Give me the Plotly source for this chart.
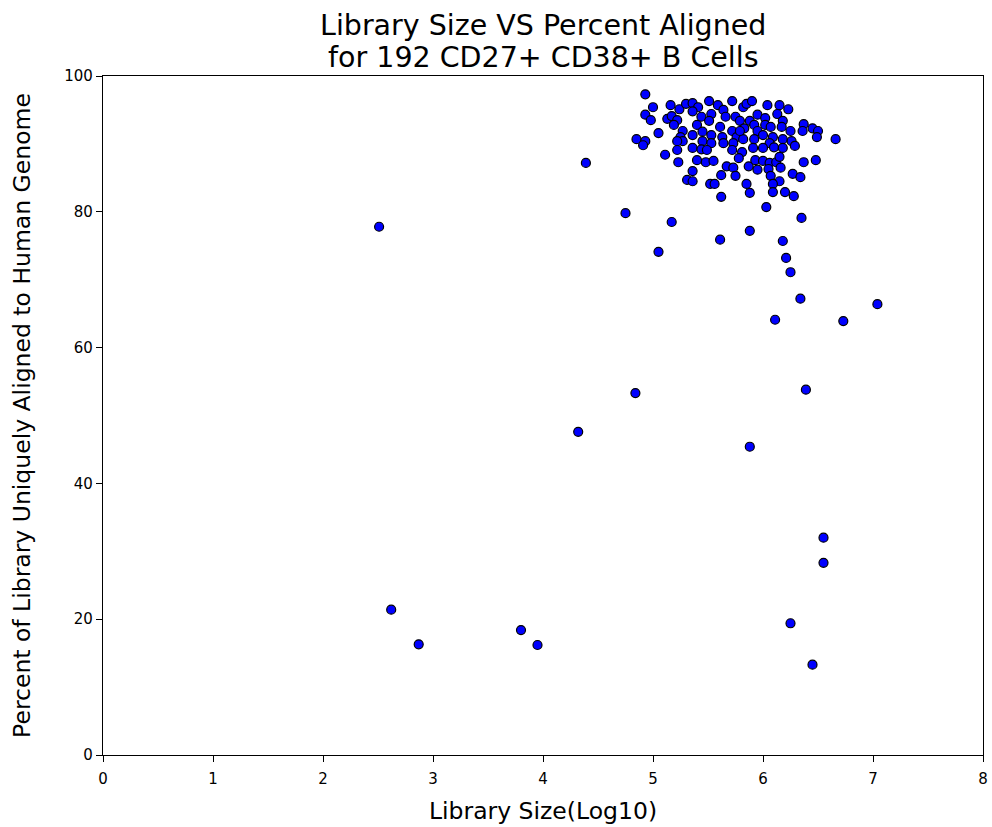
import plotly.graph_objects as go

# Library size (log10 of read count) for each cell
library_size_log10 = [
    4.93, 5.00, 4.93, 4.98, 5.05, 4.85, 4.93, 5.16, 5.13, 5.17, 5.22, 5.19, 5.24, 5.30, 5.27, 5.25, 5.27, 5.22,
    5.36, 5.41, 5.51, 5.59, 5.64, 5.72, 5.82, 5.85, 5.36, 5.44, 5.53, 5.51, 5.61, 5.66, 5.75, 5.79, 5.83, 5.40,
    5.36, 5.45, 5.53, 5.63, 5.72, 5.76, 5.82, 5.45, 5.53, 5.64, 5.73, 5.79,
    5.90, 6.04, 6.15, 6.23, 6.13, 5.95, 6.02, 6.18, 5.88, 5.92, 6.02, 6.07, 6.17, 6.37, 6.36, 6.25, 5.95, 6.00,
    5.92, 6.09, 6.18, 6.26, 6.06,
    6.45, 6.50, 6.49, 6.66,
    4.91, 5.11, 5.22, 5.23, 5.31,
    5.36, 5.44, 5.49, 5.72, 5.81, 5.40, 5.48, 5.55, 5.67, 5.73, 5.87, 5.36, 5.52, 5.56, 5.62, 5.75, 5.78, 5.85, 5.62,
    5.91, 6.00, 6.10, 6.18, 6.29, 5.93, 6.00, 6.06, 6.12, 6.15, 6.16, 5.95, 6.05, 6.07, 6.15, 6.27, 6.34, 6.37,
    6.09, 6.09, 6.20, 6.28, 5.88,
    6.48, 5.36,
    2.51, 2.62, 2.87, 3.80, 3.95, 4.32, 4.39, 4.75, 4.84, 5.05, 5.17, 5.61, 5.88, 5.88, 6.03, 6.18, 6.21, 6.25,
    6.34, 6.11, 7.04, 6.73, 6.39, 6.55, 6.55, 6.25, 6.45, 6.35,
]

# Percent of each library uniquely aligned to the human genome
percent_aligned = [
    97.3, 95.4, 94.3, 93.5, 91.6, 90.7, 90.4, 95.7, 93.7, 94.1, 93.5, 92.8, 95.1, 95.9, 91.9, 91.0, 90.4, 90.4,
    96.0, 95.4, 96.3, 95.7, 95.0, 96.3, 95.4, 95.9, 94.8, 94.0, 94.4, 93.4, 92.5, 94.0, 94.0, 93.4, 92.3, 92.8,
    91.3, 91.8, 91.3, 91.0, 91.9, 91.0, 90.7, 90.4, 90.1, 90.1, 90.1, 91.9,
    96.3, 95.7, 95.7, 95.1, 94.4, 94.3, 93.8, 93.4, 93.4, 92.8, 92.8, 92.5, 92.5, 92.9, 91.9, 91.9, 91.9, 91.3,
    90.7, 91.0, 90.7, 90.4, 90.1,
    92.3, 91.9, 91.0, 90.7,
    89.8, 88.4, 89.1, 87.3, 84.7,
    89.4, 89.2, 89.1, 89.1, 88.8, 87.6, 87.3, 87.5, 86.7, 86.5, 86.7, 84.5, 84.1, 84.1, 85.4, 85.3, 87.9, 84.1, 82.2,
    89.4, 89.4, 89.5, 89.4, 89.7, 87.6, 87.5, 87.2, 87.3, 88.1, 86.5, 86.2, 86.3, 85.3, 84.5, 85.6, 85.1, 87.3,
    84.1, 82.9, 82.9, 82.3, 82.8,
    87.6, 86.0,
    77.8, 21.4, 16.3, 18.4, 16.2, 47.6, 87.2, 79.8, 53.3, 74.1, 78.5, 75.9, 77.2, 45.4, 80.7, 75.7, 73.2, 71.1,
    67.2, 64.1, 66.4, 63.9, 53.8, 32.0, 28.3, 19.4, 13.3, 79.1,
]

x_ticks = [0, 1, 2, 3, 4, 5, 6, 7, 8]
y_ticks = [0, 20, 40, 60, 80, 100]

title_lines = ["Library Size VS Percent Aligned", "for 192 CD27+ CD38+ B Cells"]

font_family = "DejaVu Sans"

fig = go.Figure(
    go.Scatter(
        x=library_size_log10,
        y=percent_aligned,
        mode="markers",
        marker=dict(color="#0000ff", size=9, line=dict(color="black", width=1.2)),
        showlegend=False,
        cliponaxis=False,
    )
)

axis_common = dict(
    automargin=False,
    showgrid=False,
    zeroline=False,
    showline=True,
    linecolor="black",
    linewidth=1.2,
    mirror=True,
    ticks="outside",
    ticklen=6,
    tickwidth=1,
    tickcolor="black",
    tickfont=dict(family=font_family, size=15, color="black"),
)

fig.update_xaxes(
    range=[0, 8],
    tickvals=x_ticks,
    ticklabelstandoff=4,
    title=dict(text="Library Size(Log10)", font=dict(family=font_family, size=23.5, color="black"), standoff=15),
    **axis_common,
)
fig.update_yaxes(
    range=[0, 100],
    tickvals=y_ticks,
    title=dict(
        text="Percent of Library Uniquely Aligned to Human Genome",
        font=dict(family=font_family, size=23.5, color="black"),
        standoff=27,
    ),
    **axis_common,
)

# Two-line title, each line placed above the plot area
for line_text, shift in zip(title_lines, [51, 19]):
    fig.add_annotation(
        text=line_text,
        xref="paper",
        yref="paper",
        x=0.5,
        y=1,
        xanchor="center",
        yanchor="middle",
        yshift=shift,
        showarrow=False,
        font=dict(family=font_family, size=28.5, color="black"),
    )

fig.update_layout(
    width=992,
    height=827,
    margin=dict(l=103, r=9, t=76, b=72),
    paper_bgcolor="white",
    plot_bgcolor="white",
)

fig.write_html("out.html")
